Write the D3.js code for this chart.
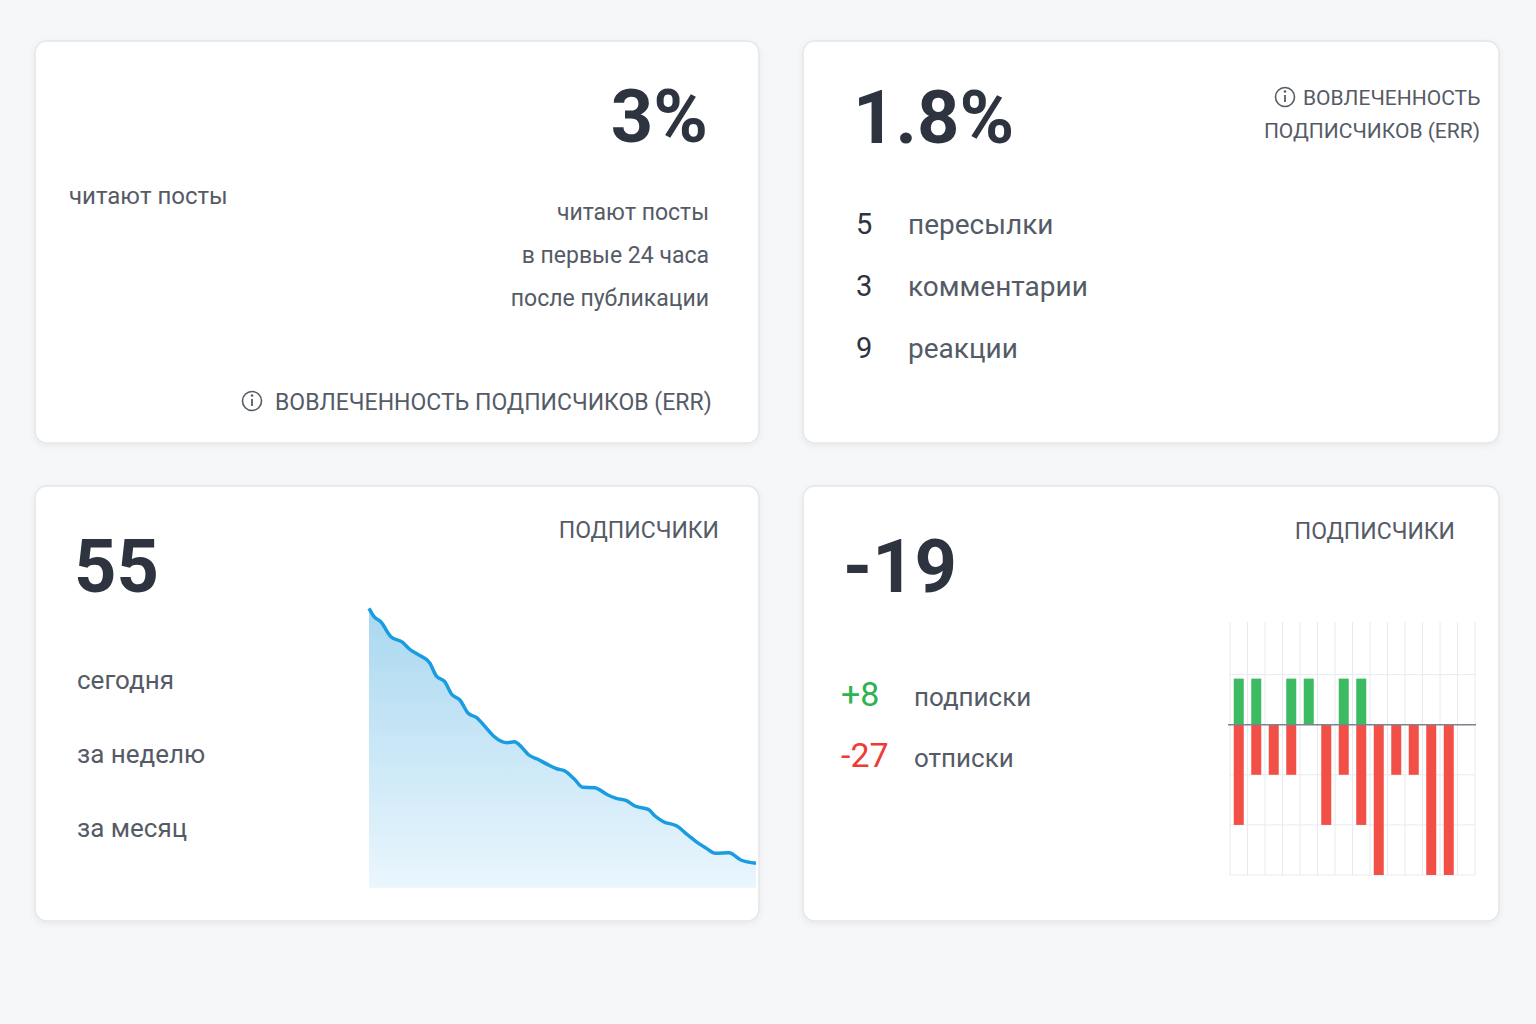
<!DOCTYPE html>
<html><head><meta charset="utf-8">
<script src="https://cdn.jsdelivr.net/npm/d3@7"></script>
<style>body{margin:0;background:#f6f7f9;}svg{display:block;font-family:Roboto,"Noto Sans",sans-serif;}</style>
</head><body><svg id="c" width="1536" height="1024"></svg>
<script>
// ---- data ----
const readTitle = "3%";
const readLines = ["читают посты","в первые 24 часа","после публикации"];
const errTitle = "1.8%";
const errCounts = [5,3,9];
const errLabels = ["пересылки","комментарии","реакции"];
const subsTotal = "55";
const subsPeriods = ["сегодня","за неделю","за месяц"];
const lineDays = [3,4.5,6.5,9.5,13,15,17.5,21,23,25.5,27.5,30,32.5,35,37.5,40,42.5,44,46.2,48.5,50.5,53,56,59,61,64,66.5,70,74,76.5,79.5,82,86,88,90.5,94.5,97.5,100.5,103,106,110,113.5,118];
const lineValues = [86,83.5,82,77.5,75.8,73.8,72.2,69.7,65.7,64,60.3,58.5,54.5,53.2,50.5,47.7,46,45.7,46,44.2,42,40.8,39.2,37.8,37.3,34.8,32.3,32.2,30,29,28.3,26.7,25.7,23.7,22,20.7,18.2,15.8,14.2,12.5,12.7,10.5,9.5];
const netTotal = "-19";
const subsIn = "+8", subsOut = "-27";
const barCols = d3.range(14);
const gains = [1,1,0,1,1,0,1,1,0,0,0,0,0,0];
const losses = [-2,-1,-1,-1,0,-2,-1,-2,-3,-1,-1,-3,-3,0];

const svg = d3.select("#c");
const dark="#2d3440", mid="#555b66";
const defs = svg.append("defs");
const f = defs.append("filter").attr("id","sh").attr("x","-5%").attr("y","-5%").attr("width","110%").attr("height","115%");
f.append("feDropShadow").attr("dx",0).attr("dy",2).attr("stdDeviation",3).attr("flood-color","#000").attr("flood-opacity",0.06);
const g = defs.append("linearGradient").attr("id","ag").attr("x1",0).attr("y1",0).attr("x2",0).attr("y2",1);
g.append("stop").attr("offset","0%").attr("stop-color","#a9d8f0");
g.append("stop").attr("offset","100%").attr("stop-color","#eaf6fd");

const cards=[[35,41,724,402],[803,41,696,402],[35,486,724,435],[803,486,696,435]];
svg.selectAll("rect.card").data(cards).join("rect").attr("class","card")
 .attr("x",d=>d[0]).attr("y",d=>d[1]).attr("width",d=>d[2]).attr("height",d=>d[3])
 .attr("rx",12).attr("fill","#fff").attr("stroke","#e4e6ea").attr("stroke-width",1.5).attr("filter","url(#sh)");

function txt(x,y,s,size,fill,anchor,weight){return svg.append("text").attr("x",x).attr("y",y).text(s)
 .attr("font-size",size).attr("fill",fill).attr("text-anchor",anchor||"start").attr("font-weight",weight||400);}
function info(cx,cy){svg.append("circle").attr("cx",cx).attr("cy",cy).attr("r",9.5).attr("fill","none").attr("stroke",mid).attr("stroke-width",1.6);
 svg.append("line").attr("x1",cx).attr("x2",cx).attr("y1",cy-2).attr("y2",cy+5).attr("stroke",mid).attr("stroke-width",1.8);
 svg.append("circle").attr("cx",cx).attr("cy",cy-5.5).attr("r",1.3).attr("fill",mid);}

// card 1
txt(708,142,readTitle,74,dark,"end",700);
txt(69,204,readLines[0],24,mid);
readLines.forEach((s,i)=>txt(709,220+i*43,s,23,mid,"end"));
info(252,401);
txt(275,410,"ВОВЛЕЧЕННОСТЬ ПОДПИСЧИКОВ (ERR)",23,mid);

// card 2
txt(853,143,errTitle,74,dark,"start",700);
info(1285,97);
txt(1303,105,"ВОВЛЕЧЕННОСТЬ",21,mid);
txt(1480,138,"ПОДПИСЧИКОВ (ERR)",21,mid,"end");
errCounts.forEach((n,i)=>{txt(856,234+i*62,n,29,dark);txt(908,234+i*62,errLabels[i],28,mid);});

// card 3
txt(74,592,subsTotal,74,dark,"start",700);
txt(719,538,"ПОДПИСЧИКИ",23,mid,"end");
subsPeriods.forEach((s,i)=>txt(77,689+i*74,s,26,mid));
const lx=d3.scaleLinear().domain([3,118]).range([369,756]);
const ly=d3.scaleLinear().domain([0,90]).range([895,595]);
const pts=lineDays.map((d,i)=>[d,lineValues[i]]);
svg.append("path").datum(pts).attr("fill","url(#ag)")
 .attr("d",d3.area().x(d=>lx(d[0])).y0(ly(2.2)).y1(d=>ly(d[1])).curve(d3.curveMonotoneX));
svg.append("path").datum(pts).attr("fill","none").attr("stroke","#1a9de0").attr("stroke-width",3.5).attr("stroke-linejoin","round")
 .attr("d",d3.line().x(d=>lx(d[0])).y(d=>ly(d[1])).curve(d3.curveMonotoneX));

// card 4
txt(843,592,netTotal,74,dark,"start",700);
txt(1455,539,"ПОДПИСЧИКИ",23,mid,"end");
txt(841,706,subsIn,34,"#2db352");
txt(914,706,"подписки",26,mid);
txt(841,767,subsOut,34,"#ee3b35");
txt(914,767,"отписки",26,mid);
const bx=d3.scaleBand().domain(barCols).range([1230,1475]).paddingInner(0).paddingOuter(0);
const by=d3.scaleLinear().domain([-3,2.05]).range([875,622]);
const gg=svg.append("g");
gg.selectAll("line.v").data(d3.range(15)).join("line").attr("x1",i=>1230+i*bx.bandwidth()).attr("x2",i=>1230+i*bx.bandwidth())
 .attr("y1",622).attr("y2",875).attr("stroke","#e8eaee").attr("stroke-width",1);
gg.selectAll("line.h").data([-3,-2,-1,1]).join("line").attr("x1",1230).attr("x2",1475).attr("y1",d=>by(d)).attr("y2",d=>by(d))
 .attr("stroke","#e8eaee");
const bw=10, off=(bx.bandwidth()-bw)/2;
gg.selectAll("rect.g").data(barCols.filter(i=>gains[i]>0)).join("rect").attr("x",i=>bx(i)+off).attr("width",bw)
 .attr("y",i=>by(gains[i]*0.92)).attr("height",i=>by(0)-by(gains[i]*0.92)).attr("fill","#3dbb63");
gg.selectAll("rect.r").data(barCols.filter(i=>losses[i]<0)).join("rect").attr("x",i=>bx(i)+off).attr("width",bw)
 .attr("y",by(0)).attr("height",i=>by(losses[i])-by(0)).attr("fill","#f24f47");
gg.append("line").attr("x1",1228).attr("x2",1476).attr("y1",by(0)).attr("y2",by(0)).attr("stroke","#7d848c").attr("stroke-width",1.5);
</script></body></html>
